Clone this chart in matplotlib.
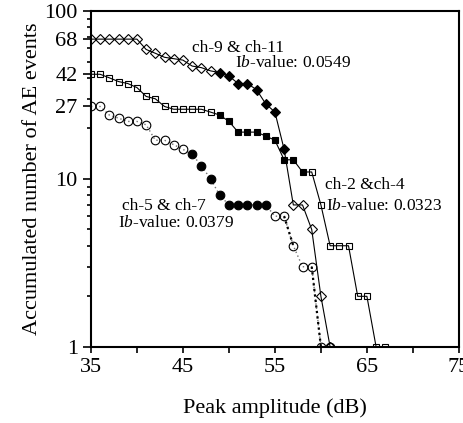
import numpy as np
import matplotlib.pyplot as plt
from matplotlib.ticker import FixedLocator, LogLocator, NullFormatter

plt.rcParams['font.family'] = 'Liberation Serif'
plt.rcParams['mathtext.fontset'] = 'custom'
plt.rcParams['mathtext.rm'] = 'Liberation Serif'
plt.rcParams['mathtext.it'] = 'Liberation Serif:italic'

# ch-9 & ch-11 (diamonds)
amp_d = np.arange(35, 62)
cnt_d = [68, 68, 68, 68, 68, 68, 59, 56, 53, 52, 51, 47, 46, 44, 43, 41, 37, 37, 34, 28,
         25, 15, 7, 7, 5, 2, 1]
fill_d = (49, 56)

# ch-2 & ch-4 (squares)
amp_s = np.arange(35, 68)
cnt_s = [42, 42, 40, 38, 37, 35, 31, 30, 27, 26, 26, 26, 26, 25, 24, 22, 19, 19, 19, 18,
         17, 13, 13, 11, 11, 7, 4, 4, 4, 2, 2, 1, 1]
fill_s = (49, 58)

# ch-5 & ch-7 (circles)
amp_c = np.arange(35, 62)
cnt_c = [27, 27, 24, 23, 22, 22, 21, 17, 17, 16, 15, 14, 12, 10, 8, 7, 7, 7, 7, 7,
         6, 6, 4, 3, 3, 1, 1]
fill_c = (46, 54)

y_ticks = [1, 10, 27, 42, 68, 100]
x_ticks = [35, 45, 55, 65, 75]


def draw(ax, x, y, marker, ms, fill, ls='-', lc='black', lw=0.8):
    x = np.asarray(x)
    y = np.asarray(y, dtype=float)
    ax.plot(x, y, ls=ls, color=lc, lw=lw, zorder=2)
    on = (x >= fill[0]) & (x <= fill[1])
    ax.plot(x[~on], y[~on], ls='none', marker=marker, ms=ms, mfc='none',
            mec='black', mew=0.8, zorder=3)
    ax.plot(x[on], y[on], ls='none', marker=marker, ms=ms, mfc='black',
            mec='black', mew=0.8, zorder=3)


fig = plt.figure(figsize=(4.64, 4.23), dpi=100)
ax = fig.add_axes([0.196, 0.18, 0.793, 0.794])

draw(ax, amp_d, cnt_d, 'D', 4.6, fill_d)
draw(ax, amp_s, cnt_s, 's', 4.8, fill_s)
draw(ax, amp_c, cnt_c, 'o', 6.2, fill_c, ls=(0, (1, 2)), lc='0.45', lw=1.0)
# heavier dotted steps at the tail of ch-5 & ch-7
for i0 in (21, 24):
    ax.plot(amp_c[i0:i0 + 2], cnt_c[i0:i0 + 2], ls=(0, (1, 1.5)), color='black',
            lw=1.6, zorder=2)

ax.set_yscale('log')
ax.set_xlim(35, 75)
ax.set_ylim(1, 100)
ax.xaxis.set_major_locator(FixedLocator(x_ticks))
ax.xaxis.set_minor_locator(FixedLocator([40, 50, 60, 70]))
ax.yaxis.set_major_locator(FixedLocator(y_ticks))
ax.set_yticklabels([str(t) for t in y_ticks])
ax.yaxis.set_minor_locator(LogLocator(base=10, subs=np.arange(2, 10)))
ax.yaxis.set_minor_formatter(NullFormatter())

ax.tick_params(axis='both', which='both', direction='out', labelsize=16, width=1.2)
ax.tick_params(axis='y', which='major', length=6)
ax.tick_params(axis='y', which='minor', length=3)
ax.tick_params(axis='x', which='both', length=4.5)
for sp in ax.spines.values():
    sp.set_linewidth(1.5)

ax.set_xlabel('Peak amplitude (dB)', fontsize=16, labelpad=15)
ax.set_ylabel('Accumulated number of AE events', fontsize=16, labelpad=2)

fs = 12.5
ax.text(46.0, 60, 'ch-9 & ch-11', fontsize=fs, va='center')
ax.text(50.7, 49, 'I$b$-value: 0.0549', fontsize=fs, va='center')
ax.text(60.4, 9.2, 'ch-2 &ch-4', fontsize=fs, va='center')
ax.text(60.5, 6.9, 'I$b$-value: 0.0323', fontsize=fs, va='center')
ax.text(38.35, 6.9, 'ch-5 & ch-7', fontsize=fs, va='center')
ax.text(37.94, 5.5, 'I$b$-value: 0.0379', fontsize=fs, va='center')

fig.savefig('out.png', dpi=100)
